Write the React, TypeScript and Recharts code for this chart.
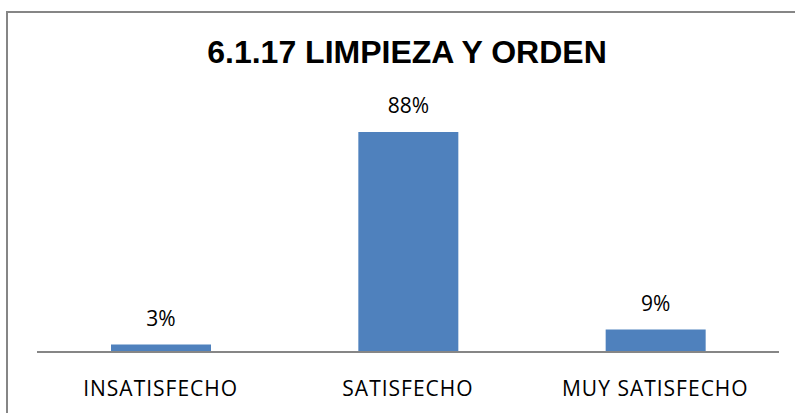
import { BarChart, Bar, XAxis, YAxis, LabelList } from "recharts";

const categories = ["INSATISFECHO", "SATISFECHO", "MUY SATISFECHO"];
const percents = [3, 88, 9];
const title = "6.1.17 LIMPIEZA Y ORDEN";

const data = categories.map((name, i) => ({ name, value: percents[i] }));

export default function App() {
  return (
    <div style={{ position: "absolute", left: 0, top: 0, width: 795, height: 413, background: "#fff", overflow: "hidden" }}>
      <div
        style={{
          position: "absolute",
          left: 6,
          top: 11,
          width: 795,
          height: 413,
          borderTop: "2px solid #868686",
          borderLeft: "2px solid #868686",
        }}
      />
      <div
        style={{
          position: "absolute",
          left: 0,
          top: 36,
          width: 814,
          textAlign: "center",
          fontFamily: "'Liberation Sans', Arial, sans-serif",
          fontWeight: "bold",
          fontSize: 32,
          lineHeight: "32px",
          color: "#000",
        }}
      >
        {title}
      </div>
      <div style={{ position: "absolute", left: 0, top: 0 }}>
        <BarChart
          width={795}
          height={413}
          data={data}
          margin={{ top: 102, right: 16, bottom: 31, left: 37 }}
        >
          <XAxis
            dataKey="name"
            height={30}
            axisLine={{ stroke: "#868686", strokeWidth: 2 }}
            tickLine={false}
            tickMargin={23}
            tick={{ fill: "#000", fontSize: 21, fontFamily: "'Open Sans', sans-serif", letterSpacing: 1 }}
            interval={0}
          />
          <YAxis hide domain={[0, 100]} />
          <Bar dataKey="value" fill="#4F81BD" barSize={100} isAnimationActive={false}>
            <LabelList
              dataKey="value"
              position="top"
              offset={19}
              formatter={(v: any) => `${v}%`}
              style={{ fill: "#000", fontSize: 21, fontFamily: "'Open Sans', sans-serif" }}
            />
          </Bar>
        </BarChart>
      </div>
    </div>
  );
}
